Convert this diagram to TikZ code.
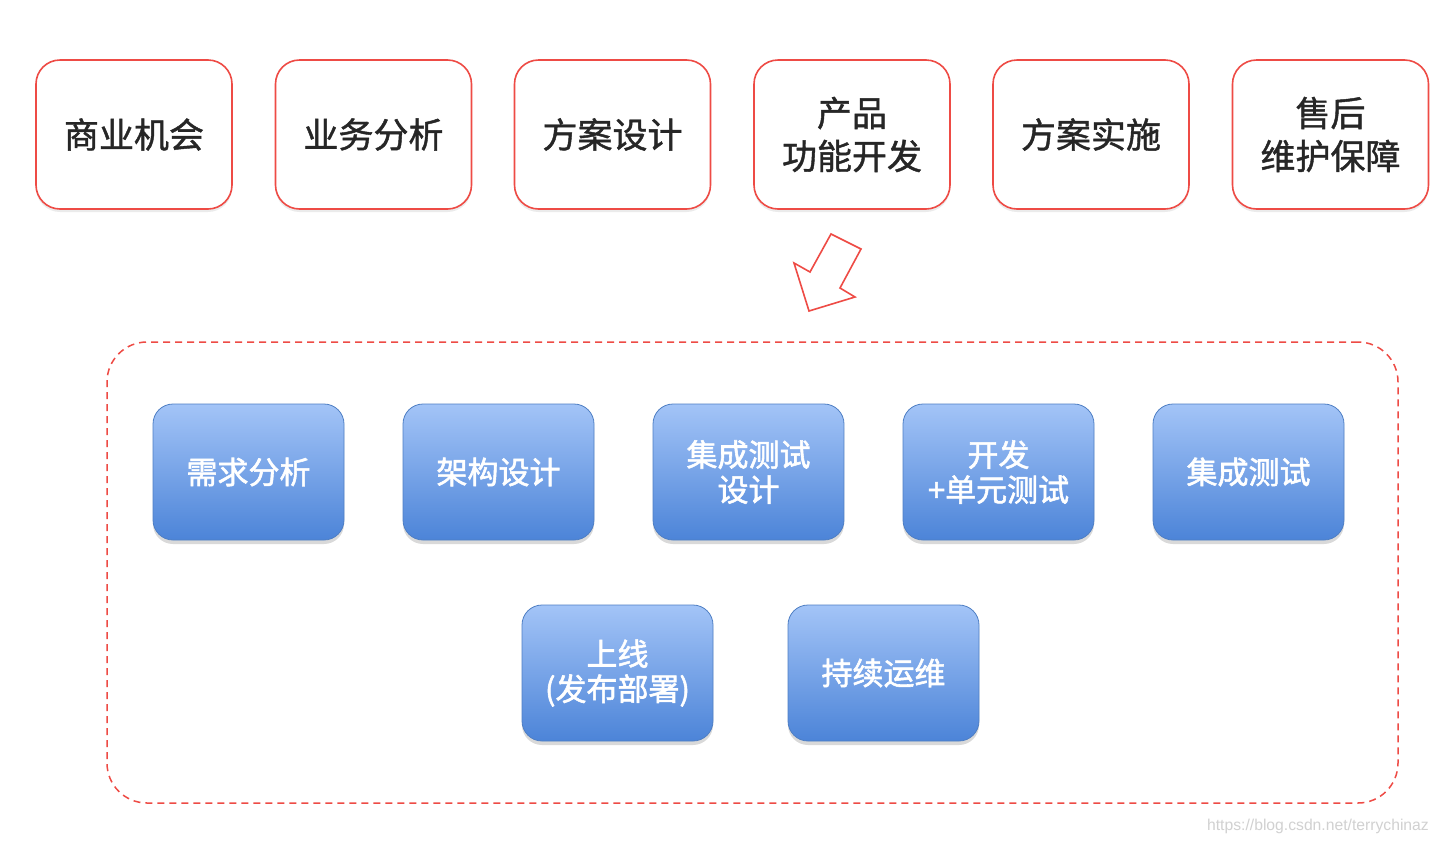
\documentclass[tikz,border=0pt]{standalone}
\usepackage{fontspec}
\setmainfont{Liberation Sans}
\newfontfamily\cjk[FakeBold=1.2]{Noto Sans CJK SC}
\newfontfamily\cjkb[FakeBold=1.8]{Noto Sans CJK SC}
\usetikzlibrary{shadows,calc}
\definecolor{redline}{HTML}{EE4B45}
\definecolor{btop}{HTML}{A3C4F7}
\definecolor{bbot}{HTML}{4C84D8}
\definecolor{bline}{HTML}{4F7FC4}
\begin{document}
\begin{tikzpicture}[x=1pt,y=-1pt,
  topbox/.style={draw=redline,line width=1.6pt,fill=white,rounded corners=24pt,
    minimum width=196pt,minimum height=149pt,align=center,
    font=\cjk\fontsize{35}{43}\selectfont,text=black!85,
    drop shadow={shadow xshift=0pt,shadow yshift=-3pt,opacity=0.08,fill=black}},
  bluebox/.style={draw=bline,line width=0.8pt,rounded corners=20pt,
    top color=btop,bottom color=bbot,
    minimum width=191pt,minimum height=136pt,align=center,
    font=\cjkb\fontsize{31}{35}\selectfont,text=white,
    drop shadow={shadow xshift=0pt,shadow yshift=-4pt,opacity=0.15,fill=black}},
  groupbox/.style={draw=redline,line width=1.5pt,dash pattern=on 7pt off 5pt,rounded corners=40pt}
]
\useasboundingbox (0,0) rectangle (1438,844);
\fill[white] (0,0) rectangle (1438,844);

% top row
\node[topbox] (t1) at (134,134.5) {商业机会};
\node[topbox] (t2) at (373.5,134.5) {业务分析};
\node[topbox] (t3) at (612.5,134.5) {方案设计};
\node[topbox] (t4) at (852,134.5) {产品\\功能开发};
\node[topbox] (t5) at (1091,134.5) {方案实施};
\node[topbox] (t6) at (1330.5,134.5) {售后\\维护保障};

% hollow arrow
\coordinate (a1) at (831,234);
\coordinate (a2) at (861,249);
\coordinate (a3) at (840,288);
\coordinate (a4) at (855,297);
\coordinate (a5) at (809,311);
\coordinate (a6) at (794,263);
\coordinate (a7) at (810,272);
\draw[redline,line width=1.6pt,line join=miter,fill=white]
  (a1) -- (a2) -- (a3) -- (a4) -- (a5) -- (a6) -- (a7) -- cycle;

% dashed group
\node[groupbox,minimum width=1291pt,minimum height=461pt] (grp) at (752.5,572.5) {};

% blue boxes
\node[bluebox] (b1) at (248.5,472) {需求分析};
\node[bluebox] (b2) at (498.5,472) {架构设计};
\node[bluebox] (b3) at (748.5,472) {集成测试\\设计};
\node[bluebox] (b4) at (998.5,472) {开发\\+单元测试};
\node[bluebox] (b5) at (1248.5,472) {集成测试};
\node[bluebox] (b6) at (617.5,673) {上线\\(发布部署)};
\node[bluebox] (b7) at (883.5,673) {持续运维};

% watermark
\node[anchor=east,text=black!18,font=\fontsize{15.7}{18}\selectfont,inner sep=0pt] (wm) at (1429,826) {https://blog.csdn.net/terrychinaz};
\end{tikzpicture}
\end{document}
